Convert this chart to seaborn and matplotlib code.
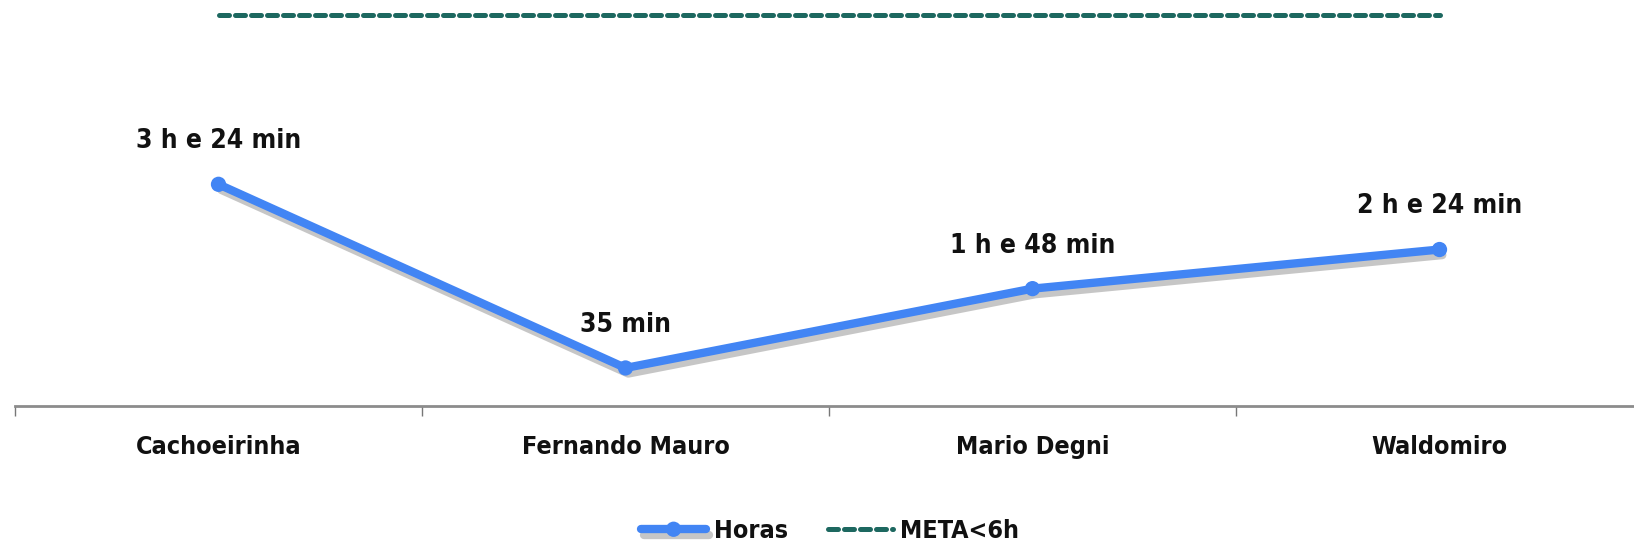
import numpy as np
import pandas as pd
import matplotlib
matplotlib.use("Agg")
import matplotlib.pyplot as plt
import matplotlib.patheffects as pe
import seaborn as sns

# data (hours)
unidades = ["Cachoeirinha", "Fernando Mauro", "Mario Degni", "Waldomiro"]
horas = [3.4, 35 / 60, 1.8, 2.4]
rotulos = ["3 h e 24 min", "35 min", "1 h e 48 min", "2 h e 24 min"]
meta = [6, 6, 6, 6]

sns.set_theme(style="white")
plt.rcParams["font.family"] = ["Liberation Sans Narrow", "DejaVu Sans Condensed", "DejaVu Sans"]
plt.rcParams["font.stretch"] = "condensed"
plt.rcParams["font.weight"] = "bold"
plt.rcParams["text.color"] = "#111111"

df = pd.DataFrame({"Unidade": unidades, "Horas": horas, "META<6h": meta})

W, H = 1634, 547
fig = plt.figure(figsize=(W / 100, H / 100), dpi=100)
# plot area: left edge at x=15, bottom axis line at y=406, runs past right edge
ax = fig.add_axes([15 / W, 1 - 406 / H, 1628 / W, 406 / H])

blue = "#4285f4"
teal = "#1d6860"

sns.lineplot(data=df, x="Unidade", y="META<6h", ax=ax, color=teal, lw=3.6,
             label="META<6h", sort=False)
ax.lines[-1].set_dashes([2.0, 1.2])
ax.lines[-1].set_dash_capstyle("round")

sns.lineplot(data=df, x="Unidade", y="Horas", ax=ax, color=blue, lw=6,
             marker="o", markersize=11, markeredgewidth=0, label="Horas",
             sort=False,
             path_effects=[pe.SimpleLineShadow(offset=(2, -4), alpha=0.3, shadow_color="#444444"),
                           pe.Normal()])

for i, (v, t) in enumerate(zip(horas, rotulos)):
    ax.annotate(t, (i, v), xytext=(0, 31), textcoords="offset points",
                ha="center", va="center", fontsize=19, fontweight="bold", color="#111111")

ax.set_xlim(-0.5, 3.5)
ax.set_ylim(0, 406 / 65.2)
ax.set_xlabel("")
ax.set_ylabel("")
ax.set_yticks([])

for s in ["top", "right", "left"]:
    ax.spines[s].set_visible(False)
ax.spines["bottom"].set_color("#8c8c8c")
ax.spines["bottom"].set_linewidth(2)

ax.set_xticks(range(len(unidades)))
ax.set_xticklabels(unidades, fontsize=18, fontweight="bold", color="#111111")
ax.tick_params(axis="x", which="major", length=0, pad=21)
ax.set_xticks(np.arange(-0.5, 4, 1), minor=True)
ax.tick_params(axis="x", which="minor", bottom=True, length=7, width=1, color="#777777")

ax.get_legend().remove()
handles, labels = ax.get_legend_handles_labels()
order = [labels.index("Horas"), labels.index("META<6h")]
fig.legend([handles[k] for k in order], [labels[k] for k in order],
           loc="center", bbox_to_anchor=(0.508, 1 - 531 / H), ncol=2, frameon=False,
           fontsize=18, handlelength=2.6, columnspacing=1.6, handletextpad=0.3,
           labelcolor="#111111")

fig.savefig("out.png", dpi=100, facecolor="white")
